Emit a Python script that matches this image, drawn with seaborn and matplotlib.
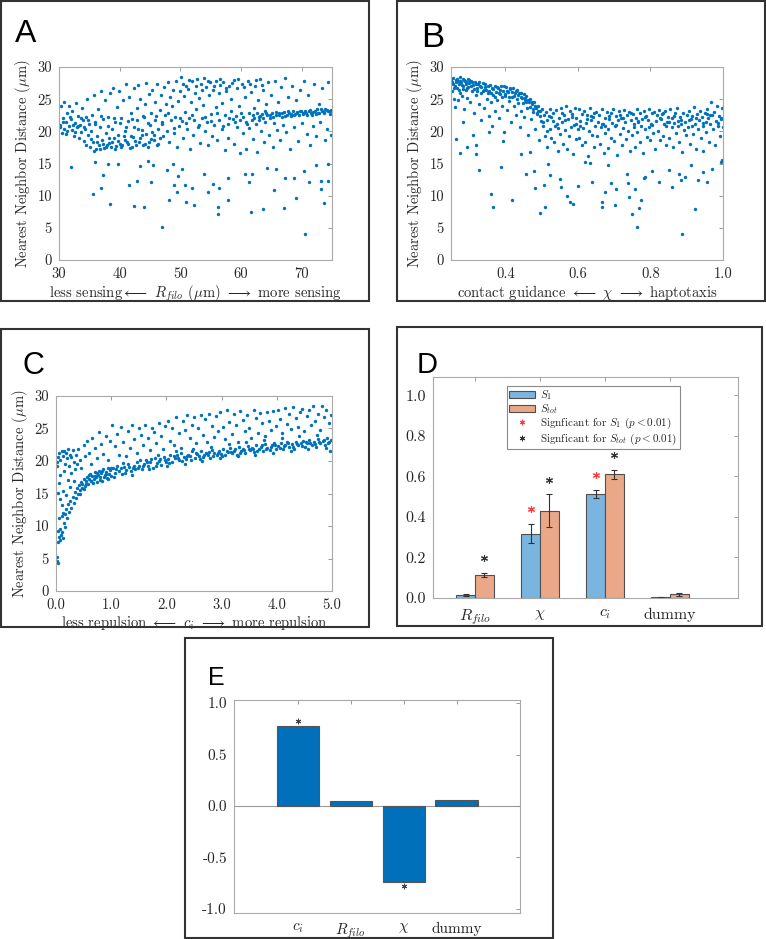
import numpy as np
import pandas as pd
import matplotlib
matplotlib.use('Agg')
import matplotlib.pyplot as plt
import seaborn as sns
from matplotlib.patches import Rectangle, Patch
from matplotlib.lines import Line2D

sns.set_style('white')
plt.rcParams['font.family'] = ['cmr10', 'DejaVu Serif']
plt.rcParams['mathtext.fontset'] = 'cm'
plt.rcParams['axes.formatter.use_mathtext'] = True
plt.rcParams['axes.unicode_minus'] = False

# ---------------- data ----------------
# panel A: nearest neighbour distance vs R_filo
a_pts = [
    (30.2,21.0),(30.3,23.9),(30.5,19.8),(30.6,22.1),(30.8,20.4),(30.9,24.6),(31.1,21.5),(31.2,19.6),
    (31.4,22.8),(31.6,20.8),(31.7,24.0),(31.9,21.9),(32.1,20.2),(32.2,23.2),(32.4,19.2),(32.6,21.3),
    (32.8,24.4),(32.9,20.6),(33.1,22.4),(33.3,18.9),(33.4,21.0),(33.6,19.9),(33.8,23.6),(33.9,21.7),
    (34.1,18.5),(34.3,20.3),(34.4,22.2),(34.6,25.0),(34.8,19.4),(34.9,21.2),(35.1,17.6),(35.3,20.0),
    (35.4,22.6),(35.6,18.3),(35.8,25.6),(35.9,21.5),(36.1,17.2),(36.3,19.3),(36.4,23.4),(36.6,17.9),
    (36.8,20.7),(36.9,26.2),(37.1,18.6),(37.3,21.9),(37.4,17.4),(37.6,24.8),(37.8,19.8),(37.9,17.8),
    (38.1,22.3),(38.3,18.2),(38.4,25.9),(38.6,17.5),(38.8,20.4),(38.9,26.8),(39.1,18.9),(39.3,21.4),
    (39.4,17.7),(39.6,23.8),(39.8,19.5),(39.9,26.3),(40.1,18.1),(40.3,22.0),(40.4,17.9),(40.6,24.9),
    (40.8,20.1),(40.9,18.6),(41.1,27.4),(41.3,21.6),(41.4,18.0),(41.6,25.4),(41.8,19.3),(41.9,22.8),
    (42.1,17.6),(42.3,26.7),(42.4,20.6),(42.6,18.5),(42.8,23.6),(42.9,21.8),(43.1,27.2),(43.3,18.9),
    (43.4,25.1),(43.6,20.2),(43.8,22.4),(43.9,17.8),(44.1,24.3),(44.3,19.6),(44.4,27.5),(44.6,21.3),
    (44.8,18.3),(44.9,25.8),(45.1,22.9),(45.3,19.9),(45.4,26.4),(45.6,18.7),(45.8,21.7),(45.9,24.6),
    (46.1,27.3),(46.3,20.4),(46.4,18.1),(46.6,23.3),(46.8,25.7),(46.9,21.2),(47.1,19.2),(47.3,26.9),
    (47.4,22.6),(47.6,24.2),(47.8,20.0),(47.9,27.6),(48.1,18.4),(48.3,25.3),(48.4,21.8),(48.6,23.9),
    (48.8,26.5),(48.9,19.7),(49.1,22.3),(49.3,27.9),(49.4,17.5),(49.6,24.7),(49.8,20.9),(49.9,26.2),
    (50.1,28.4),(50.3,21.6),(50.4,18.9),(50.6,25.5),(50.8,23.0),(50.9,27.1),(51.1,20.3),(51.3,26.6),
    (51.4,22.1),(51.6,17.3),(51.8,24.6),(51.9,27.8),(52.1,19.5),(52.3,21.7),(52.4,26.0),(52.6,23.5),
    (52.8,28.1),(52.9,20.6),(53.1,25.2),(53.3,18.2),(53.4,27.4),(53.6,22.0),(53.8,24.1),(53.9,28.3),
    (54.1,20.1),(54.3,26.9),(54.4,21.4),(54.6,17.9),(54.8,25.6),(54.9,27.6),(55.1,22.7),(55.3,19.3),
    (55.4,26.4),(55.6,21.0),(55.8,27.9),(55.9,23.8),(56.1,18.6),(56.3,25.9),(56.4,21.8),(56.6,27.2),
    (56.8,20.4),(56.9,24.4),(57.1,27.7),(57.3,22.5),(57.4,17.1),(57.6,26.3),(57.8,21.2),(57.9,19.0),
    (58.1,27.0),(58.3,23.1),(58.4,25.1),(58.6,21.9),(58.8,28.0),(58.9,18.0),(59.1,22.4),(59.3,26.7),
    (59.4,20.6),(59.6,24.0),(59.8,16.6),(59.9,21.7),(60.1,27.4),(60.3,22.2),(60.4,19.8),(60.6,25.4),
    (60.8,21.4),(60.9,17.3),(61.1,27.9),(61.3,22.9),(61.4,20.5),(61.6,26.1),(61.8,21.8),(61.9,18.8),
    (62.1,23.6),(62.3,27.0),(62.4,21.1),(62.6,16.8),(62.8,24.8),(62.9,22.3),(63.1,28.2),(63.3,20.0),
    (63.4,22.7),(63.6,26.4),(63.8,18.3),(63.9,21.5),(64.1,24.3),(64.3,22.6),(64.4,27.6),(64.6,19.4),
    (64.8,22.0),(64.9,25.7),(65.1,22.8),(65.3,17.6),(65.4,21.3),(65.6,27.8),(65.8,22.5),(65.9,20.2),
    (66.1,24.6),(66.3,22.9),(66.4,18.7),(66.6,26.9),(66.8,22.3),(66.9,21.0),(67.1,23.0),(67.3,28.3),
    (67.4,19.9),(67.6,22.6),(67.8,25.3),(67.9,22.9),(68.1,17.2),(68.3,22.4),(68.4,27.1),(68.6,23.1),
    (68.8,20.7),(68.9,22.7),(69.1,24.9),(69.3,23.0),(69.4,18.5),(69.6,22.5),(69.8,26.4),(69.9,23.2),
    (70.1,21.3),(70.3,22.8),(70.4,27.8),(70.6,23.1),(70.8,19.6),(70.9,22.6),(71.1,25.6),(71.3,23.3),
    (71.4,17.9),(71.6,22.9),(71.8,20.9),(71.9,23.0),(72.1,27.3),(72.3,22.7),(72.4,19.2),(72.6,23.4),
    (72.8,24.2),(72.9,22.8),(73.1,21.4),(73.3,23.2),(73.4,26.8),(73.6,22.9),(73.8,18.6),(73.9,23.5),
    (74.1,20.4),(74.3,23.1),(74.4,27.6),(74.6,22.7),(74.8,19.5),(74.9,23.3),
    # denser parts of the cloud
    (34.5,17.9),(35.2,18.8),(35.7,17.0),(36.2,18.4),(36.7,17.3),(37.2,18.1),(37.7,17.6),(38.2,19.0),
    (38.7,18.3),(39.2,17.2),(39.7,18.5),(40.2,17.5),(40.7,19.2),(41.2,18.4),(41.7,17.4),(42.2,19.1),
    (42.7,17.9),(43.2,18.3),(43.7,19.4),(44.2,18.0),(44.7,17.5),(45.2,18.8),(45.7,19.5),(46.2,17.9),
    (46.7,19.0),
    (30.1,20.6),(30.7,21.4),(31.3,20.1),(31.8,22.3),(32.3,21.0),(32.7,19.9),(33.2,20.9),(33.7,22.0),
    (34.2,20.6),(34.7,21.8),(36.0,21.1),(37.0,22.4),(38.0,20.9),(39.0,22.1),(40.0,21.3),(41.0,20.6),
    (42.0,21.9),(43.0,20.4),(44.0,22.2),(45.0,21.0),(46.0,22.4),(47.0,21.5),(48.0,22.8),(49.0,20.5),
    (50.0,22.0),(51.0,21.3),(52.0,22.6),(53.0,21.0),(54.0,22.3),(55.0,21.6),(56.0,22.9),(57.0,20.8),
    (58.0,22.1),(59.0,21.4),(60.0,22.8),(61.0,21.2),(62.0,22.5),(63.0,21.8),(64.0,23.1),
    (50.5,27.3),(51.5,28.0),(52.5,27.0),(53.5,26.5),(54.5,27.9),(55.5,27.1),(56.5,28.2),(57.5,26.8),
    (58.5,27.5),(59.5,28.1),(60.5,26.9),(61.5,27.4),(62.5,28.0),(63.5,27.2),
    (62.2,22.0),(62.7,22.8),(63.2,22.4),(63.7,22.1),(64.2,22.9),(64.7,22.5),(65.2,22.2),(65.7,23.0),
    (66.2,22.6),(66.7,22.8),(67.2,22.4),(67.7,23.1),(68.2,22.7),(68.7,22.5),(69.2,22.9),(69.7,23.2),
    (70.2,22.7),(70.7,22.9),(71.2,23.1),(71.7,22.6),(72.2,23.2),(72.7,22.9),(73.2,23.4),(73.7,23.0),
    (74.2,23.3),(74.7,23.1),
    # sparse low points
    (35.6,10.2),(36.9,11.2),(38.4,8.7),(35.9,15.2),(37.3,13.2),(32.0,14.4),(38.0,15.0),(39.8,15.0),
    (41.5,11.6),(42.4,8.4),(42.8,12.3),(43.4,14.6),(44.0,8.2),(44.6,15.4),(45.2,12.1),(45.5,14.7),
    (47.0,5.1),(47.8,14.0),(48.2,9.4),(48.8,15.0),(49.0,11.7),(49.4,10.5),(49.6,13.0),(50.3,14.1),
    (50.7,11.7),(50.9,9.0),(52.0,11.2),(52.3,8.6),(53.9,13.3),(54.6,10.6),(55.4,11.8),(56.2,8.2),
    (56.2,7.1),(56.4,11.2),(57.8,12.7),(57.8,9.4),(60.6,13.4),(61.4,12.1),(61.8,13.4),(61.6,7.4),
    (63.6,8.0),(64.3,14.3),(65.4,10.9),(65.7,14.1),(67.1,8.1),(67.3,12.7),(68.8,12.7),(69.0,9.7),
    (70.4,13.9),(70.6,4.1),(71.2,12.2),(72.4,14.8),(73.2,11.1),(73.2,12.3),(73.6,8.8),(74.3,12.3),
    (74.4,15.0),
]

# panel B: nearest neighbour distance vs chi
b_pts = [
    (0.252,27.6),(0.254,26.2),(0.256,28.3),(0.258,25.1),(0.26,27.1),(0.262,23.8),(0.264,28.0),(0.266,26.7),
    (0.268,27.8),(0.27,24.9),(0.272,27.3),(0.274,28.4),(0.276,26.0),(0.278,27.6),(0.28,25.5),(0.282,28.1),
    (0.284,27.0),(0.286,23.5),(0.288,27.9),(0.29,26.4),(0.292,27.4),(0.294,25.2),(0.296,28.2),(0.298,26.9),
    (0.3,27.5),(0.302,24.6),(0.305,27.8),(0.308,26.3),(0.31,27.2),(0.313,22.8),(0.316,27.6),(0.318,25.7),
    (0.321,26.8),(0.324,27.4),(0.326,24.2),(0.329,27.0),(0.332,25.9),(0.334,21.7),(0.337,27.5),(0.34,26.4),
    (0.342,23.6),(0.345,26.9),(0.348,25.1),(0.351,27.1),(0.354,22.4),(0.356,26.2),(0.359,24.6),(0.362,26.8),
    (0.364,20.9),(0.367,25.6),(0.37,27.0),(0.372,23.2),(0.375,26.1),(0.378,24.9),(0.38,26.7),(0.383,22.1),
    (0.386,25.8),(0.388,27.0),(0.391,24.0),(0.394,26.3),(0.396,19.9),(0.399,25.5),(0.402,26.9),(0.404,23.3),
    (0.407,26.1),(0.41,24.7),(0.412,26.6),(0.415,21.5),(0.418,25.3),(0.42,26.8),(0.423,23.9),(0.426,25.9),
    (0.428,22.6),(0.431,26.4),(0.434,24.4),(0.436,25.7),(0.439,20.7),(0.442,26.0),(0.444,23.1),(0.447,25.2),
    (0.45,25.8),(0.452,22.2),(0.455,24.9),(0.458,25.5),(0.46,23.6),(0.463,19.4),(0.466,24.6),(0.468,25.0),
    (0.471,21.9),(0.474,24.2),(0.476,23.0),(0.479,24.5),(0.482,20.4),(0.484,23.6),(0.487,22.7),(0.49,24.0),
    (0.492,18.7),(0.495,23.1),(0.498,21.6),(0.5,23.4),(0.503,20.9),(0.506,22.5),(0.508,19.2),(0.511,23.0),
    (0.514,21.8),(0.516,17.6),(0.519,22.4),(0.522,20.3),(0.524,23.5),(0.527,19.0),(0.53,21.6),(0.532,22.9),
    (0.535,18.4),(0.538,20.8),(0.54,23.3),(0.543,21.2),(0.546,16.9),(0.548,22.0),(0.551,19.6),(0.554,23.7),
    (0.556,21.4),(0.559,18.1),(0.562,22.6),(0.564,20.2),(0.567,24.0),(0.57,17.3),(0.572,21.9),(0.575,19.3),
    (0.578,23.1),(0.58,20.7),(0.583,22.3),(0.586,16.5),(0.588,21.0),(0.591,23.6),(0.594,18.8),(0.596,22.0),
    (0.599,20.3),(0.602,23.4),(0.604,19.0),(0.607,21.6),(0.61,17.8),(0.612,22.7),(0.615,20.5),(0.618,23.2),
    (0.62,18.4),(0.623,21.3),(0.626,22.5),(0.628,16.2),(0.631,20.0),(0.634,23.6),(0.636,21.8),(0.639,19.5),
    (0.642,22.2),(0.644,17.5),(0.647,20.9),(0.65,23.0),(0.652,19.2),(0.655,21.5),(0.658,22.6),(0.66,18.0),
    (0.663,20.6),(0.666,23.4),(0.668,21.1),(0.671,16.7),(0.674,22.1),(0.676,19.8),(0.679,23.0),(0.682,20.4),
    (0.684,17.4),(0.687,21.9),(0.69,22.8),(0.692,19.0),(0.695,21.3),(0.698,23.5),(0.7,18.5),(0.703,20.8),
    (0.706,22.4),(0.708,16.3),(0.711,21.7),(0.714,23.1),(0.716,19.6),(0.719,22.0),(0.722,17.9),(0.724,20.5),
    (0.727,23.3),(0.73,21.4),(0.732,18.8),(0.735,22.6),(0.738,20.1),(0.74,23.0),(0.743,16.9),(0.746,21.8),
    (0.748,19.4),(0.751,22.7),(0.754,20.6),(0.756,17.6),(0.759,22.1),(0.762,23.4),(0.764,19.9),(0.767,21.5),
    (0.77,18.3),(0.772,22.9),(0.775,20.8),(0.778,21.9),(0.78,16.6),(0.783,23.1),(0.786,20.3),(0.788,22.4),
    (0.791,19.1),(0.794,21.7),(0.796,23.5),(0.799,18.7),(0.802,21.2),(0.804,22.8),(0.807,19.7),(0.81,23.0),
    (0.812,17.3),(0.815,21.6),(0.818,22.5),(0.82,20.1),(0.823,23.3),(0.826,18.6),(0.828,21.9),(0.831,22.7),
    (0.834,19.3),(0.836,21.1),(0.839,23.1),(0.842,17.9),(0.844,20.8),(0.847,22.3),(0.85,21.5),(0.852,19.0),
    (0.855,23.4),(0.858,20.6),(0.86,22.1),(0.863,17.6),(0.866,21.3),(0.868,22.9),(0.871,19.8),(0.874,23.6),
    (0.876,20.9),(0.879,18.4),(0.882,22.3),(0.884,21.7),(0.887,16.8),(0.89,22.8),(0.892,20.2),(0.895,21.5),
    (0.898,19.4),(0.901,22.6),(0.904,20.7),(0.906,23.2),(0.909,18.1),(0.912,21.9),(0.914,22.4),(0.917,19.6),
    (0.92,23.8),(0.922,21.2),(0.925,17.2),(0.928,22.7),(0.93,20.4),(0.933,21.8),(0.936,23.1),(0.938,19.0),
    (0.941,22.2),(0.944,20.9),(0.946,16.9),(0.949,22.9),(0.952,21.4),(0.954,19.9),(0.957,23.5),(0.96,22.0),
    (0.962,18.3),(0.965,21.2),(0.968,24.6),(0.97,22.6),(0.973,20.3),(0.976,23.0),(0.978,17.8),(0.981,21.6),
    (0.984,23.9),(0.986,20.8),(0.989,22.4),(0.992,19.2),(0.994,21.9),(0.997,23.7),(0.999,20.6),
    # denser parts of the cloud
    (0.251,28.0),(0.255,27.3),(0.259,26.8),(0.263,27.7),(0.267,28.2),(0.271,26.5),(0.275,27.9),(0.279,27.2),
    (0.283,26.6),(0.287,28.0),(0.291,27.6),(0.295,26.7),(0.299,28.0),(0.304,27.1),(0.309,27.7),(0.314,26.6),
    (0.319,27.3),(0.323,26.2),(0.328,27.7),(0.333,26.9),(0.338,26.3),(0.343,27.3),(0.347,26.5),(0.352,26.0),
    (0.357,27.2),(0.361,25.9),(0.366,26.6),(0.371,25.4),(0.376,26.9),(0.381,25.9),(0.385,26.4),(0.39,25.3),
    (0.395,27.0),(0.4,25.8),(0.405,26.3),(0.41,25.4),(0.414,26.7),(0.419,26.1),(0.424,25.5),(0.429,26.2),
    (0.433,25.1),(0.438,25.9),(0.443,25.3),(0.448,24.4),(0.453,25.2),(0.457,24.5),(0.462,24.9),(0.467,23.8),
    (0.472,24.6),(0.477,23.4),(0.481,23.9),(0.486,22.9),(0.491,23.2),(0.496,22.4),
    (0.505,21.5),(0.525,22.2),(0.545,20.5),(0.565,21.8),(0.585,22.7),(0.605,20.9),(0.625,21.9),(0.645,22.8),
    (0.665,21.2),(0.685,22.4),(0.705,21.0),(0.725,22.1),(0.745,22.9),(0.765,21.6),(0.785,22.2),(0.805,21.0),
    (0.825,22.0),(0.845,21.4),(0.865,22.4),(0.885,21.1),(0.905,21.7),(0.925,22.1),(0.945,21.3),(0.965,22.5),
    (0.985,21.3),(0.515,20.0),(0.555,22.9),(0.595,21.2),(0.635,22.4),(0.675,20.9),(0.715,22.6),(0.755,21.1),
    (0.795,20.6),(0.835,22.9),(0.875,21.6),(0.915,20.8),(0.955,22.7),(0.995,22.1),
    # sparse low points
    (0.263,18.8),(0.275,16.6),(0.295,17.6),(0.284,21.5),(0.31,19.5),(0.318,17.8),(0.32,16.4),(0.326,14.0),
    (0.355,19.9),(0.36,10.2),(0.365,8.3),(0.388,14.5),(0.394,18.5),(0.417,9.3),(0.443,16.4),(0.456,13.3),
    (0.468,16.8),(0.48,13.9),(0.481,11.2),(0.495,7.3),(0.507,11.7),(0.509,8.2),(0.518,15.0),(0.523,13.2),
    (0.55,12.6),(0.553,11.3),(0.571,10.0),(0.578,9.0),(0.587,8.7),(0.6,11.5),(0.619,15.2),(0.633,15.1),
    (0.64,12.1),(0.665,9.0),(0.667,8.2),(0.676,10.6),(0.683,14.7),(0.692,11.9),(0.702,8.6),(0.704,11.0),
    (0.736,13.4),(0.737,12.0),(0.741,9.8),(0.748,7.1),(0.757,11.1),(0.764,5.1),(0.768,8.1),(0.774,9.3),
    (0.782,12.7),(0.786,12.9),(0.803,13.9),(0.823,12.1),(0.85,14.0),(0.86,11.3),(0.88,13.4),(0.883,12.5),
    (0.888,4.1),(0.896,12.9),(0.913,14.8),(0.922,8.0),(0.931,12.4),(0.945,13.7),(0.957,12.2),(0.97,14.1),
    (0.995,15.2),(0.997,15.5),
]

# panel C: nearest neighbour distance vs c_i
c_pts = [
    # lower (dense) branch
    (0.01,4.6),(0.02,5.2),(0.03,4.3),(0.03,7.6),(0.04,9.2),(0.05,8.3),(0.06,11.2),(0.07,7.9),(0.08,9.6),
    (0.09,8.6),(0.1,11.5),(0.11,9.1),(0.12,8.2),(0.13,12.0),(0.14,10.4),(0.16,11.8),(0.17,9.8),(0.19,12.6),
    (0.2,11.3),(0.22,13.4),(0.24,12.2),(0.26,13.9),(0.28,12.8),(0.3,14.5),(0.32,13.6),(0.34,15.2),(0.36,14.3),
    (0.38,15.8),(0.4,14.9),(0.42,16.3),(0.44,15.5),(0.46,16.8),(0.48,15.9),(0.5,17.2),(0.52,16.2),(0.54,16.9),
    (0.56,17.6),(0.58,16.5),(0.6,17.3),(0.62,18.0),(0.64,16.9),(0.66,17.7),(0.68,17.2),(0.7,18.3),(0.72,17.5),
    (0.74,16.8),(0.76,17.9),(0.78,18.5),(0.8,17.6),(0.82,18.1),(0.84,17.0),(0.86,18.7),(0.88,17.8),(0.9,18.3),
    (0.92,17.4),(0.94,18.9),(0.96,18.0),(0.98,18.6),(1.0,17.7),
    (1.03,18.9),(1.07,18.2),(1.11,19.3),(1.15,18.5),(1.19,18.0),(1.23,19.1),(1.27,18.6),(1.31,19.6),
    (1.35,18.4),(1.39,19.0),(1.43,18.7),(1.47,19.8),(1.51,19.2),(1.55,18.8),(1.59,19.6),(1.63,20.1),
    (1.67,19.3),(1.71,19.9),(1.75,19.0),(1.79,20.4),(1.83,19.7),(1.87,20.0),(1.91,19.4),(1.95,20.6),
    (1.99,19.9),(2.03,20.3),(2.07,21.0),(2.11,19.8),(2.15,20.5),(2.19,20.9),(2.23,20.1),(2.27,21.2),
    (2.31,20.6),(2.35,20.3),(2.39,21.0),(2.43,20.7),(2.47,21.5),(2.51,20.4),(2.55,21.1),(2.59,20.8),
    (2.63,21.6),(2.67,20.6),(2.71,21.3),(2.75,21.0),(2.79,20.5),(2.83,21.7),(2.87,21.2),(2.91,20.9),
    (2.95,21.5),(2.99,21.1),(3.03,21.8),(3.07,20.9),(3.11,21.4),(3.15,22.0),(3.19,21.2),(3.23,21.6),
    (3.27,21.0),(3.31,22.1),(3.35,21.5),(3.39,21.9),(3.43,21.3),(3.47,22.3),(3.51,21.7),(3.55,22.0),
    (3.59,21.4),(3.63,22.5),(3.67,21.8),(3.71,22.2),(3.75,21.5),(3.79,22.6),(3.83,22.0),(3.87,21.7),
    (3.91,22.4),(3.95,22.8),(3.99,21.9),(4.03,22.3),(4.07,22.7),(4.11,21.8),(4.15,22.5),(4.19,23.0),
    (4.23,22.2),(4.27,22.6),(4.31,21.9),(4.35,22.9),(4.39,22.4),(4.43,22.7),(4.47,23.1),(4.51,22.1),
    (4.55,22.8),(4.59,23.3),(4.63,22.5),(4.67,22.9),(4.71,22.2),(4.75,23.4),(4.79,22.7),(4.83,23.1),
    (4.87,22.4),(4.91,23.5),(4.95,22.9),(4.99,23.2),
    (1.05,17.6),(1.21,19.7),(1.37,17.9),(1.53,20.2),(1.69,18.7),(1.85,20.9),(2.01,19.2),(2.17,21.5),
    (2.33,19.6),(2.49,21.9),(2.65,20.0),(2.81,22.2),(2.97,20.4),(3.13,22.6),(3.29,20.7),(3.45,22.9),
    (3.61,21.0),(3.77,23.2),(3.93,21.3),(4.09,23.5),(4.25,21.6),(4.41,23.8),(4.57,21.9),(4.73,24.0),
    (4.89,22.0),(4.97,21.6),
    (0.43,15.0),(0.47,16.4),(0.51,15.7),(0.55,16.5),(0.59,17.8),(0.63,17.0),(0.67,16.6),(0.71,17.7),
    (0.75,18.2),(0.79,17.1),(0.83,18.4),(0.87,17.5),(0.91,18.0),(0.95,17.3),(0.99,18.9),(1.09,18.7),
    (1.17,19.0),(1.25,18.2),(1.33,19.1),(1.41,19.3),(1.49,18.9),(1.57,19.2),(1.65,19.8),(1.73,20.3),
    (1.81,19.2),(1.89,20.3),(1.97,20.2),(2.05,19.7),(2.13,20.8),(2.21,20.5),(2.29,20.0),(2.37,20.8),
    (2.45,20.2),(2.53,21.3),(2.61,20.3),(2.69,21.0),(2.77,21.4),(2.85,20.7),(2.93,21.3),(3.01,20.8),
    (3.09,21.6),(3.17,21.4),(3.25,21.9),(3.33,21.3),(3.41,21.7),(3.49,21.9),(3.57,21.8),(3.65,21.6),
    (3.73,22.4),(3.81,21.8),(3.89,22.2),(3.97,22.5),(4.05,22.0),(4.13,22.3),(4.21,22.7),(4.29,22.2),
    (4.37,22.6),(4.45,22.3),(4.53,22.9),(4.61,22.8),(4.69,22.6),(4.77,22.9),(4.85,23.3),(4.93,22.7),
    # upper (sparse) branch
    (0.01,19.3),(0.02,19.9),(0.04,20.6),(0.06,21.2),(0.08,20.1),(0.1,21.5),(0.12,20.8),(0.14,21.6),
    (0.16,19.6),(0.18,21.3),(0.2,20.4),(0.22,21.8),(0.24,19.2),(0.26,21.0),(0.28,20.6),(0.3,21.7),
    (0.33,19.8),(0.36,20.9),(0.05,16.6),(0.08,17.8),(0.12,15.4),(0.15,18.5),(0.18,14.8),(0.21,17.1),
    (0.25,16.0),(0.28,18.2),(0.32,17.0),(0.35,18.8),(0.38,19.5),(0.07,14.1),(0.11,13.2),(0.03,15.1),
    (0.4,21.9),(0.43,20.2),(0.46,19.0),(0.5,22.4),(0.53,20.7),(0.56,23.1),(0.6,21.3),(0.63,19.6),
    (0.66,23.6),(0.7,22.0),(0.74,20.5),(0.78,24.4),(0.82,22.6),(0.86,21.1),(0.9,23.8),(0.94,20.2),(0.98,23.1),
    (1.02,25.6),(1.06,22.3),(1.1,24.1),(1.14,21.0),(1.18,25.2),(1.22,23.0),(1.26,20.7),(1.3,24.6),
    (1.34,22.0),(1.38,25.5),(1.42,23.4),(1.46,21.3),(1.5,25.0),(1.54,24.0),(1.58,22.4),(1.62,25.6),
    (1.66,23.6),(1.7,21.7),(1.74,25.1),(1.78,24.4),(1.82,22.8),(1.86,25.9),(1.9,23.9),(1.94,21.9),(1.98,25.4),
    (2.02,26.2),(2.06,23.1),(2.1,25.0),(2.14,22.4),(2.18,26.7),(2.22,24.3),(2.26,22.0),(2.3,26.1),
    (2.34,24.8),(2.38,27.0),(2.42,23.5),(2.46,25.6),(2.5,26.8),(2.54,22.7),(2.58,25.1),(2.62,27.1),
    (2.66,24.0),(2.7,26.4),(2.74,22.9),(2.78,27.3),(2.82,25.4),(2.86,23.7),(2.9,26.9),(2.94,24.6),(2.98,27.6),
    (3.02,25.3),(3.06,23.4),(3.1,27.8),(3.14,26.0),(3.18,24.1),(3.22,27.2),(3.26,25.6),(3.3,23.0),
    (3.34,27.7),(3.38,26.3),(3.42,24.6),(3.46,27.0),(3.5,25.1),(3.54,23.6),(3.58,27.9),(3.62,26.6),
    (3.66,24.3),(3.7,27.4),(3.74,25.8),(3.78,23.9),(3.82,27.6),(3.86,26.1),(3.9,24.8),(3.94,27.7),(3.98,25.4),
    (4.02,27.8),(4.06,26.4),(4.1,24.3),(4.14,28.1),(4.18,25.7),(4.22,27.2),(4.26,24.9),(4.3,28.3),
    (4.34,26.6),(4.38,25.2),(4.42,27.5),(4.46,28.0),(4.5,24.6),(4.54,26.9),(4.58,27.8),(4.62,25.5),
    (4.66,28.4),(4.7,26.2),(4.74,27.3),(4.78,24.8),(4.82,28.5),(4.86,26.7),(4.9,27.9),(4.94,25.9),(4.98,27.0),
]

# panel D: Sobol indices
d_params = ['R_filo', 'chi', 'c_i', 'dummy']
d_ticklabels = [r'$R_{filo}$', r'$\chi$', r'$c_i$', 'dummy']
s1_val = [0.015, 0.316, 0.511, 0.003]
s1_lo = [0.011, 0.270, 0.492, 0.002]
s1_hi = [0.019, 0.364, 0.531, 0.004]
stot_val = [0.113, 0.428, 0.610, 0.020]
stot_lo = [0.103, 0.349, 0.587, 0.012]
stot_hi = [0.123, 0.511, 0.631, 0.025]
s1_star = [np.nan, 0.438, 0.605, np.nan]
stot_star = [0.198, 0.582, 0.705, np.nan]

# panel E: correlation coefficients
e_params = ['c_i', 'R_filo', 'chi', 'dummy']
e_ticklabels = [r'$c_i$', r'$R_{filo}$', r'$\chi$', 'dummy']
e_val = [0.777, 0.048, -0.735, 0.061]
e_star = [0.825, np.nan, -0.78, np.nan]

# ---------------- layout helpers ----------------
W, H = 766, 939
fig = plt.figure(figsize=(W / 100, H / 100), dpi=100)
fig.patch.set_facecolor('white')


def frac(l, t, r, b):
    return [l / W, 1 - b / H, (r - l) / W, (b - t) / H]


def box(l, t, r, b):
    x, y, w, h = frac(l, t, r, b)
    fig.add_artist(Rectangle((x, y), w, h, transform=fig.transFigure,
                             fill=False, ec='#333333', lw=1.5))


def letter(x, y, s, size):
    fig.text(x / W, 1 - y / H, s, fontsize=size, family='Liberation Sans',
             ha='left', va='baseline', color='black')


def style(ax, labelsize):
    for sp in ax.spines.values():
        sp.set_color('#a9a9a9')
        sp.set_linewidth(0.8)
    ax.tick_params(direction='in', length=3, width=0.6, color='#8c8c8c',
                   top=True, right=True, labelsize=labelsize,
                   labelcolor='#262626', pad=5)


dot_c = '#0072BD'
ylab = r'Nearest Neighbor Distance ($\mu$m)'
yt = [0, 5, 10, 15, 20, 25, 30]

scatter_panels = [
    (a_pts, (59, 67, 332, 260), (30, 75), [30, 40, 50, 60, 70], ['30', '40', '50', '60', '70'],
     r'less sensing$\longleftarrow$ $R_{filo}$ ($\mu$m) $\longrightarrow$ more sensing'),
    (b_pts, (451, 67, 723, 260), (0.25, 1.0), [0.4, 0.6, 0.8, 1.0], ['0.4', '0.6', '0.8', '1.0'],
     r'contact guidance $\longleftarrow$ $\chi$ $\longrightarrow$ haptotaxis'),
    (c_pts, (56, 396, 332, 591), (0, 5), [0, 1, 2, 3, 4, 5], ['0.0', '1.0', '2.0', '3.0', '4.0', '5.0'],
     r'less repulsion $\longleftarrow$ $c_i$ $\longrightarrow$ more repulsion'),
]

for pts, rect, xl, xt, xtl, xlab in scatter_panels:
    ax = fig.add_axes(frac(*rect))
    arr = np.array(pts)
    sns.scatterplot(x=arr[:, 0], y=arr[:, 1], s=6, color=dot_c, linewidth=0,
                    ax=ax, legend=False)
    ax.set_xlim(*xl)
    ax.set_ylim(0, 30)
    ax.set_xticks(xt, xtl)
    ax.set_yticks(yt, [str(v) for v in yt])
    style(ax, 10.5)
    ax.set_ylabel(ylab, fontsize=10.5, labelpad=3, color='#262626')
    ax.set_xlabel(xlab, fontsize=10.5, labelpad=2, color='#262626')

# ---------------- panel D ----------------
axd = fig.add_axes(frac(433, 377, 738, 598))
df = pd.DataFrame({'param': d_params * 2,
                   'index': ['S1'] * 4 + ['Stot'] * 4,
                   'value': s1_val + stot_val})
c_s1, c_stot = '#7AB5E0', '#EBA888'
sns.barplot(data=df, x='param', y='value', hue='index', order=d_params,
            palette=[c_s1, c_stot], saturation=1, width=0.58, errorbar=None,
            edgecolor='#505050', linewidth=0.8, legend=False, ax=axd)
bars = sorted(axd.patches, key=lambda p: p.get_x())
x1 = [bars[2 * i].get_x() + bars[2 * i].get_width() / 2 for i in range(4)]
x2 = [bars[2 * i + 1].get_x() + bars[2 * i + 1].get_width() / 2 for i in range(4)]
v1, v2 = np.array(s1_val), np.array(stot_val)
axd.errorbar(x1, v1, yerr=[v1 - np.array(s1_lo), np.array(s1_hi) - v1], fmt='none',
             ecolor='#333333', elinewidth=0.8, capsize=2.5, capthick=0.8)
axd.errorbar(x2, v2, yerr=[v2 - np.array(stot_lo), np.array(stot_hi) - v2], fmt='none',
             ecolor='#333333', elinewidth=0.8, capsize=2.5, capthick=0.8)
ast = (6, 2, 0)
axd.plot(x1, s1_star, ls='none', marker=ast, color='#ff3b3b', ms=5, mew=0.8)
axd.plot(x2, stot_star, ls='none', marker=ast, color='#333333', ms=5, mew=0.8)
axd.set_xlim(-0.646, 4.046)
axd.set_ylim(0, 1.09)
axd.set_yticks([0, 0.2, 0.4, 0.6, 0.8, 1.0], ['0.0', '0.2', '0.4', '0.6', '0.8', '1.0'])
axd.set_xticks([0, 1, 2, 3], d_ticklabels)
axd.set_xlabel('')
axd.set_ylabel('')
style(axd, 11.5)
axd.tick_params(axis='x', pad=7)
handles = [Patch(facecolor=c_s1, edgecolor='#505050', lw=0.8, label=r'$S_1$'),
           Patch(facecolor=c_stot, edgecolor='#505050', lw=0.8, label=r'$S_{tot}$'),
           Line2D([], [], ls='none', marker=ast, color='#ff3b3b', ms=4, mew=0.7,
                  label=r'Signficant for $S_1$ ($p<0.01$)'),
           Line2D([], [], ls='none', marker=ast, color='#333333', ms=4, mew=0.7,
                  label=r'Signficant for $S_{tot}$ ($p<0.01$)')]
leg = axd.legend(handles=handles, loc='upper left', bbox_to_anchor=(0.243, 0.959),
                 fontsize=8, frameon=True, fancybox=False, edgecolor='#8a8a8a',
                 framealpha=1, handlelength=2.3, handleheight=0.6, borderpad=0.2,
                 labelspacing=0.0, handletextpad=0.5, borderaxespad=0)
leg.get_frame().set_linewidth(0.8)

# ---------------- panel E ----------------
axe = fig.add_axes(frac(234, 700, 520, 913))
sns.barplot(x=e_params, y=e_val, order=e_params, color='#0070BA', saturation=1,
            width=0.8, edgecolor='#555555', linewidth=0.8, errorbar=None, ax=axe)
ebars = sorted(axe.patches, key=lambda p: p.get_x())
xe = [p.get_x() + p.get_width() / 2 for p in ebars]
axe.axhline(0, color='#9a9a9a', lw=0.8, zorder=0.5)
axe.plot(xe, e_star, ls='none', marker=ast, color='#444444', ms=4, mew=0.7)
axe.set_xlim(-1.21, 4.2)
axe.set_ylim(-1.04, 1.03)
axe.set_yticks([-1, -0.5, 0, 0.5, 1], ['-1.0', '-0.5', '0.0', '0.5', '1.0'])
axe.set_xticks([0, 1, 2, 3], e_ticklabels)
axe.set_xlabel('')
axe.set_ylabel('')
style(axe, 11)
axe.tick_params(axis='x', pad=6)

# ---------------- panel frames and letters ----------------
box(1, 1, 369, 301)
box(397, 1, 765, 301)
box(1, 329, 369, 627)
box(397, 327, 762, 626)
box(185, 638, 553, 938)
letter(15, 42, 'A', 23)
letter(421, 47, 'B', 25)
letter(23, 374, 'C', 22)
letter(417, 373, 'D', 21)
letter(208, 685, 'E', 18)

fig.savefig('out.png', dpi=100)
